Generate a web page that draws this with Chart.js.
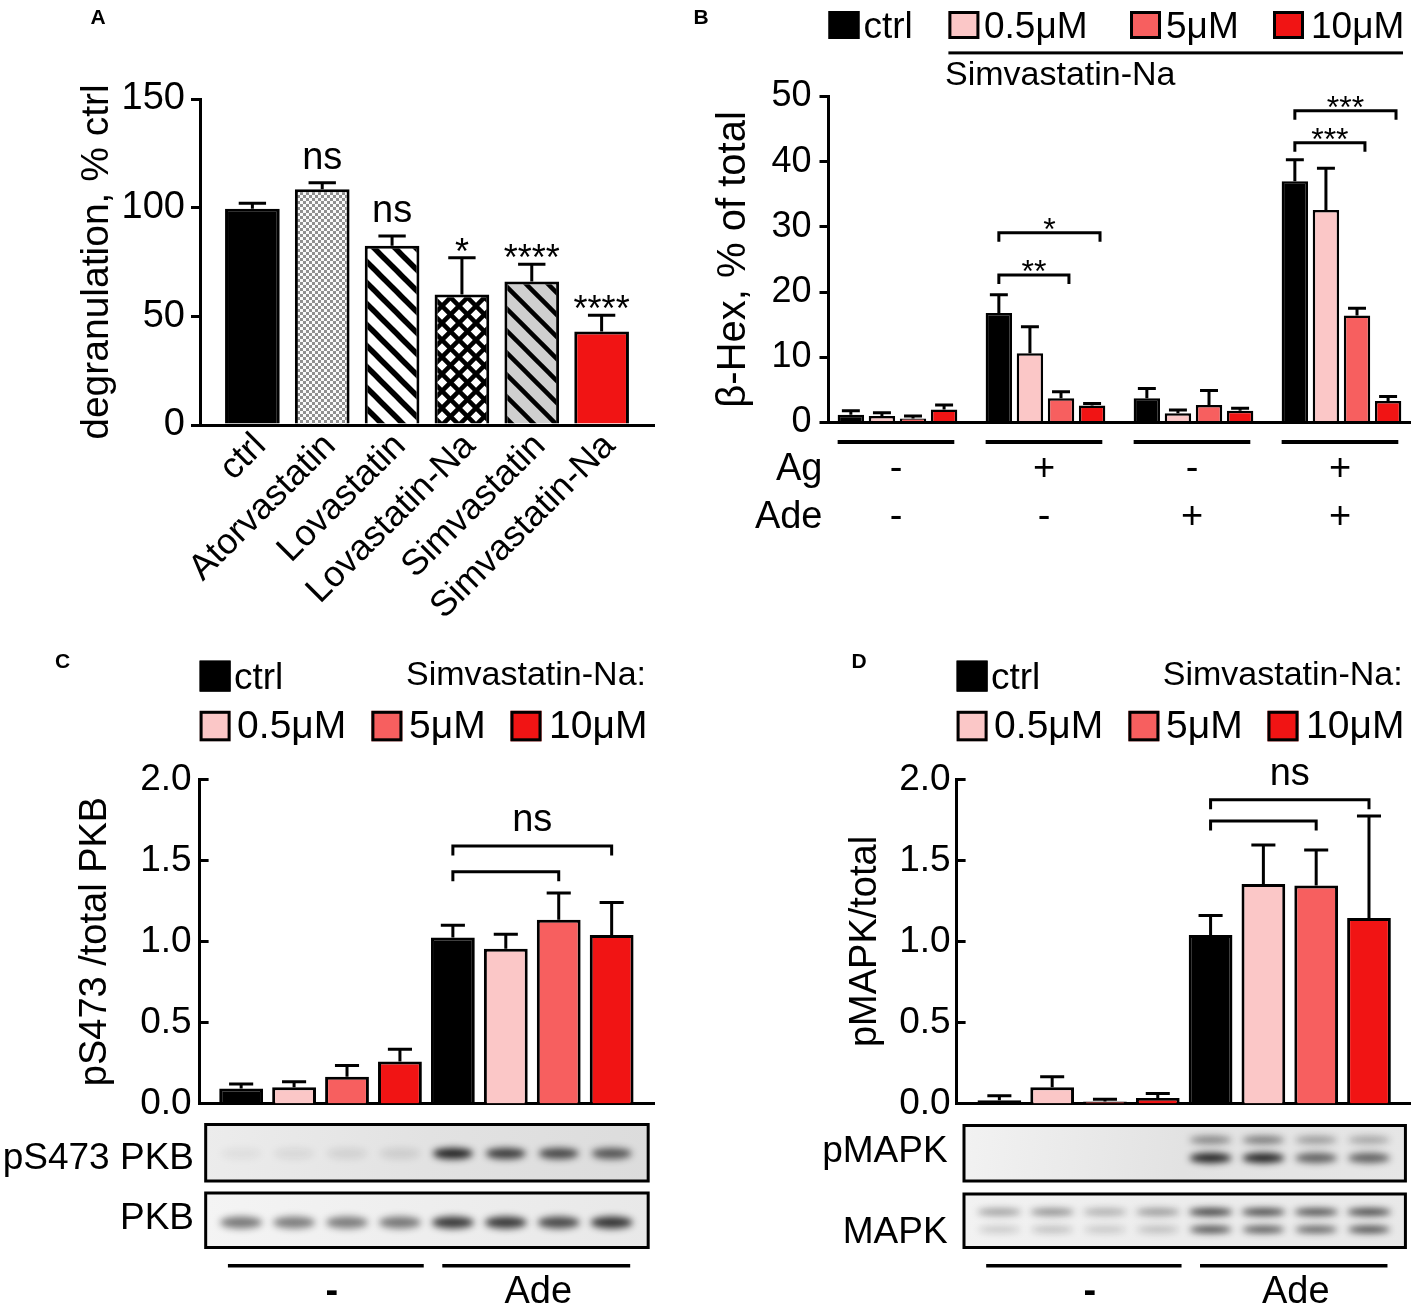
<!DOCTYPE html>
<html>
<head>
<meta charset="utf-8">
<script src="https://cdn.jsdelivr.net/npm/chart.js@4.4.0/dist/chart.umd.min.js"></script>
<style>
body { margin: 0; background: #fff; width: 1412px; height: 1313px; position: relative; overflow: hidden; }
canvas { position: absolute; }
</style>
</head>
<body>
<canvas id="chartA" width="690" height="640" style="left:0;top:0"></canvas>
<canvas id="chartB" width="722" height="560" style="left:690px;top:0"></canvas>
<canvas id="chartC" width="700" height="673" style="left:0;top:640px"></canvas>
<canvas id="chartD" width="712" height="673" style="left:700px;top:640px"></canvas>
<script>
// ---- panel A: degranulation per statin
var statins = ['ctrl', 'Atorvastatin', 'Lovastatin', 'Lovastatin-Na', 'Simvastatin', 'Simvastatin-Na'];
var degranulation = [99.5, 108.5, 82.5, 60, 66, 43];
var degranulationErr = [2.5, 3, 4.5, 17, 8, 7.5];
var degranulationSig = ['', 'ns', 'ns', '*', '****', '****'];

// ---- panel B: beta-hex release, 4 conditions x 4 doses
var doses = ['ctrl', '0.5μM', '5μM', '10μM'];
var agRow = ['-', '+', '-', '+'];
var adeRow = ['-', '-', '+', '+'];
var hexCtrl = [1.2, 16.8, 3.7, 37.0];
var hex05 = [1.0, 10.6, 1.4, 32.6];
var hex5 = [0.6, 3.7, 2.7, 16.4];
var hex10 = [2.0, 2.6, 1.8, 3.3];
var hexCtrlErr = [0.6, 2.8, 1.5, 3.3];
var hex05Err = [0.5, 4.1, 0.5, 6.4];
var hex5Err = [0.4, 1.0, 2.2, 1.1];
var hex10Err = [0.7, 0.3, 0.4, 0.7];
var hexSigGroup = [1, 1, 3, 3];
var hexSigDose = [2, 3, 2, 3];
var hexSigLevel = [22.6, 29.1, 42.9, 47.8];
var hexSigLabel = ['**', '*', '***', '***'];

// ---- panels C, D: 8 lanes (4 doses without / with Ade)
var laneAde = ['-', '-', '-', '-', 'Ade', 'Ade', 'Ade', 'Ade'];
var laneDose = doses.concat(doses);
var pkbRatio = [0.093, 0.10, 0.165, 0.26, 1.025, 0.955, 1.135, 1.04];
var pkbErr = [0.027, 0.035, 0.07, 0.075, 0.075, 0.09, 0.165, 0.2];
var pkbSigTo = [6, 7];
var pkbSigLevel = [1.43, 1.59];
var mapkRatio = [0.02, 0.10, 0.013, 0.034, 1.04, 1.355, 1.345, 1.145];
var mapkErr = [0.028, 0.065, 0.013, 0.027, 0.12, 0.24, 0.22, 0.63];
var mapkSigTo = [6, 7];
var mapkSigLevel = [1.744, 1.875];
// blot band darkness per lane, 0..1
var pS473Band = [0.05, 0.07, 0.09, 0.1, 0.9, 0.78, 0.72, 0.66];
var pkbBand = [0.52, 0.5, 0.5, 0.52, 0.8, 0.8, 0.72, 0.82];
var pMapkTopBand = [0, 0, 0, 0, 0.45, 0.5, 0.35, 0.3];
var pMapkLowBand = [0, 0, 0, 0, 0.9, 0.9, 0.62, 0.62];
var mapkTopBand = [0.38, 0.45, 0.3, 0.4, 0.85, 0.8, 0.75, 0.8];
var mapkLowBand = [0.18, 0.22, 0.18, 0.22, 0.75, 0.7, 0.65, 0.75];

var FONT = '"Liberation Sans", Arial, sans-serif';
var doseColors = ['#000000', '#fbc7c7', '#f75f5f', '#f11414'];
Chart.defaults.font.family = FONT;
Chart.defaults.color = '#000';

function txt(ctx, s, x, y, size, align, bold) {
  ctx.save();
  ctx.font = (bold ? 'bold ' : '') + size + 'px ' + FONT;
  ctx.fillStyle = '#000';
  ctx.textAlign = align || 'center';
  ctx.textBaseline = 'alphabetic';
  ctx.fillText(s, x, y);
  ctx.restore();
}

function makePattern(size, draw) {
  var c = document.createElement('canvas');
  c.width = c.height = size;
  var g = c.getContext('2d');
  draw(g, size);
  return g.createPattern(c, 'repeat');
}
function stripes(g, n, bg, lw) {
  g.fillStyle = bg; g.fillRect(0, 0, n, n);
  g.strokeStyle = '#000'; g.lineWidth = lw;
  [-n, 0, n].forEach(function(c) {
    g.beginPath(); g.moveTo(-2, c - 2); g.lineTo(n + 2, n + c + 2); g.stroke();
  });
}
var checker = makePattern(6, function(g) {
  g.fillStyle = '#fafafa'; g.fillRect(0, 0, 6, 6);
  g.fillStyle = '#8f8f8f'; g.fillRect(0, 0, 3, 3); g.fillRect(3, 3, 3, 3);
});
var lovaStripe = makePattern(21, function(g, n) { stripes(g, n, '#fff', 5.5); });
var simStripe = makePattern(22, function(g, n) { stripes(g, n, '#cfcfcf', 4.5); });
var crossHatch = makePattern(17, function(g, n) {
  g.fillStyle = '#fff'; g.fillRect(0, 0, n, n);
  g.strokeStyle = '#000'; g.lineWidth = 4.5;
  [-n, 0, n].forEach(function(c) {
    g.beginPath(); g.moveTo(-2, c - 2); g.lineTo(n + 2, n + c + 2); g.stroke();
    g.beginPath(); g.moveTo(-2, n - c + 2); g.lineTo(n + 2, -c - 2); g.stroke();
  });
});
var statinFills = ['#000000', checker, lovaStripe, crossHatch, simStripe, '#f11414'];

function errorBars(errs, capRatio) {
  return {
    id: 'errorBars',
    afterDatasetsDraw: function(chart) {
      var ctx = chart.ctx, ys = chart.scales.y;
      ctx.save();
      ctx.strokeStyle = '#000';
      ctx.lineWidth = 3;
      chart.data.datasets.forEach(function(ds, di) {
        chart.getDatasetMeta(di).data.forEach(function(bar, i) {
          var top = ys.getPixelForValue(ds.data[i].y + errs[di][i]);
          var half = bar.width * capRatio / 2;
          ctx.beginPath();
          ctx.moveTo(bar.x, bar.y); ctx.lineTo(bar.x, top);
          ctx.moveTo(bar.x - half, top); ctx.lineTo(bar.x + half, top);
          ctx.stroke();
        });
      });
      ctx.restore();
    }
  };
}

// tick marks pointing into the plot (panels C, D)
var inwardTicks = {
  id: 'inwardTicks',
  afterDraw: function(chart) {
    var ctx = chart.ctx, ys = chart.scales.y, L = chart.chartArea.left;
    ctx.save();
    ctx.strokeStyle = '#000'; ctx.lineWidth = 3;
    ys.ticks.forEach(function(t) {
      var y = ys.getPixelForValue(t.value);
      ctx.beginPath(); ctx.moveTo(L - 1.5, y); ctx.lineTo(L + 9, y); ctx.stroke();
    });
    ctx.restore();
  }
};

function bracket(ctx, x1, x2, y, drop) {
  ctx.save();
  ctx.strokeStyle = '#000'; ctx.lineWidth = 3;
  ctx.beginPath();
  ctx.moveTo(x1, y + drop); ctx.lineTo(x1, y); ctx.lineTo(x2, y); ctx.lineTo(x2, y + drop);
  ctx.stroke();
  ctx.restore();
}

function legendBox(ctx, x, y, w, h, color) {
  ctx.save();
  ctx.fillStyle = color; ctx.fillRect(x, y, w, h);
  ctx.strokeStyle = '#000'; ctx.lineWidth = 3;
  ctx.strokeRect(x + 1.5, y + 1.5, w - 3, h - 3);
  ctx.restore();
}

function yAxis(min, max, step, tickSize, pad, title, titleSize, titlePad, width, fmt, inward) {
  return {
    min: min, max: max,
    grid: { display: !inward, drawTicks: !inward, drawOnChartArea: false, tickLength: 9, color: '#000', lineWidth: 3 },
    border: { display: true, color: '#000', width: 3 },
    ticks: { stepSize: step, padding: pad, font: { size: tickSize }, callback: fmt },
    title: { display: true, text: title, font: { size: titleSize, lineHeight: 1 }, padding: { top: titlePad, bottom: 0 } },
    afterFit: function(s) { s.width = width; }
  };
}
function xAxisPlain(min, max, height) {
  return {
    type: 'linear', min: min, max: max, offset: false,
    grid: { display: false, drawTicks: false },
    border: { display: true, color: '#000', width: 3 },
    ticks: { display: false, stepSize: 1, includeBounds: false },
    afterFit: function(s) { s.height = height; }
  };
}
function points(vals) {
  return vals.map(function(v, i) { return { x: i, y: v }; });
}

// ================= A
new Chart(document.getElementById('chartA'), {
  type: 'bar',
  data: {
    datasets: [{
      data: points(degranulation),
      backgroundColor: statinFills,
      borderColor: '#000', borderWidth: 3,
      categoryPercentage: 0.9, barPercentage: 0.87
    }]
  },
  options: {
    responsive: false, animation: false,
    layout: { padding: { top: 99, right: 36, bottom: 0, left: 0 } },
    plugins: { legend: { display: false }, tooltip: { enabled: false } },
    scales: {
      x: {
        type: 'linear', min: -0.75, max: 5.75, offset: false,
        grid: { display: false, drawTicks: false },
        border: { display: true, color: '#000', width: 3 },
        ticks: {
          stepSize: 1, includeBounds: false, autoSkip: false, minRotation: 45, maxRotation: 45,
          padding: 0, labelOffset: 8, font: { size: 36 },
          callback: function(v) { return statins[v] || ''; }
        },
        afterFit: function(s) { s.height = 215; }
      },
      y: yAxis(0, 150, 50, 38, 6, 'degranulation, % ctrl', 39, 77.5, 200)
    }
  },
  plugins: [errorBars([degranulationErr], 0.5), {
    id: 'labelsA',
    afterDraw: function(chart) {
      var ctx = chart.ctx, ys = chart.scales.y;
      txt(ctx, 'A', 98, 24, 21, 'center', true);
      chart.getDatasetMeta(0).data.forEach(function(bar, i) {
        var s = degranulationSig[i];
        if (!s) return;
        var top = ys.getPixelForValue(degranulation[i] + degranulationErr[i]);
        if (s === 'ns') txt(ctx, s, bar.x, top - 14, 38);
        else txt(ctx, s, bar.x, top + 6, 36);
      });
    }
  }]
});

// ================= B
var hexSets = [hexCtrl, hex05, hex5, hex10];
var hexErrs = [hexCtrlErr, hex05Err, hex5Err, hex10Err];
new Chart(document.getElementById('chartB'), {
  type: 'bar',
  data: {
    datasets: hexSets.map(function(vals, d) {
      return {
        label: doses[d], data: points(vals),
        backgroundColor: doseColors[d], borderColor: '#000', borderWidth: 2.5,
        categoryPercentage: 0.84, barPercentage: 0.85
      };
    })
  },
  options: {
    responsive: false, animation: false,
    layout: { padding: { top: 96.4, right: 2, bottom: 0, left: 0 } },
    plugins: { legend: { display: false }, tooltip: { enabled: false } },
    scales: {
      x: xAxisPlain(-0.466, 3.463, 137.5),
      y: yAxis(0, 50, 10, 36, 8, 'β-Hex, % of total', 40, 24, 138.5)
    }
  },
  plugins: [errorBars(hexErrs, 0.68), {
    id: 'labelsB',
    afterDraw: function(chart) {
      var ctx = chart.ctx, ys = chart.scales.y, a = chart.chartArea, L = a.left;
      txt(ctx, 'B', 11, 24, 21, 'center', true);
      // legend
      var boxX = [0, 119.9, 301.5, 444.5], textX = [35, 155.5, 337.5, 482.5];
      doses.forEach(function(d, i) {
        legendBox(ctx, L + boxX[i], 11, 31, 28, doseColors[i]);
        txt(ctx, d, L + textX[i], 38, 37, 'left');
      });
      ctx.save();
      ctx.fillStyle = '#000';
      ctx.fillRect(L + 119.9, 51.4, 454.6, 3);
      ctx.restore();
      txt(ctx, 'Simvastatin-Na', L + 116.5, 85, 34, 'left');
      // significance brackets
      hexSigLabel.forEach(function(s, k) {
        var g = hexSigGroup[k];
        var b0 = chart.getDatasetMeta(0).data[g];
        var b1 = chart.getDatasetMeta(hexSigDose[k]).data[g];
        var y = ys.getPixelForValue(hexSigLevel[k]);
        var x2 = b1.x + b1.width * 0.3;
        bracket(ctx, b0.x, x2, y, 9);
        txt(ctx, s, (b0.x + x2) / 2, y + 7, 32);
      });
      // condition rows
      txt(ctx, 'Ag', L - 6, a.bottom + 57.5, 38, 'right');
      txt(ctx, 'Ade', L - 6, a.bottom + 105.5, 38, 'right');
      var first = chart.getDatasetMeta(0).data, last = chart.getDatasetMeta(3).data;
      agRow.forEach(function(s, g) {
        var x0 = first[g].x - first[g].width / 2, x1 = last[g].x + last[g].width / 2 - 3;
        ctx.save(); ctx.fillStyle = '#000'; ctx.fillRect(x0, a.bottom + 17.5, x1 - x0, 4); ctx.restore();
        var cx = (x0 + x1) / 2;
        txt(ctx, s, cx, a.bottom + 57.5, 38);
        txt(ctx, adeRow[g], cx, a.bottom + 105.5, 38);
      });
    }
  }]
});

// ================= C, D shared drawing
function drawDoseLegend(chart) {
  var ctx = chart.ctx, a = chart.chartArea, L = a.left;
  legendBox(ctx, L, 20.6, 31, 31, doseColors[0]);
  txt(ctx, doses[0], L + 34.4, 49.4, 37, 'left');
  txt(ctx, 'Simvastatin-Na:', a.right - 8, 45, 34, 'right');
  var boxX = [0, 171.8, 310.9], textX = [37.5, 209.5, 349.5];
  for (var i = 1; i < 4; i++) {
    legendBox(ctx, L + boxX[i - 1], 70.8, 31, 30.5, doseColors[i]);
    txt(ctx, doses[i], L + textX[i - 1], 97.9, 39, 'left');
  }
}
function drawNs(chart, toIdx, levels) {
  var ctx = chart.ctx, ys = chart.scales.y, bars = chart.getDatasetMeta(0).data;
  var x1 = bars[4].x, top = 0, cx = 0;
  toIdx.forEach(function(j, k) {
    var y = ys.getPixelForValue(levels[k]);
    bracket(ctx, x1, bars[j].x, y, 9.5);
    top = y; cx = (x1 + bars[j].x) / 2;
  });
  txt(ctx, 'ns', cx, top - 15, 38);
}
function drawBlots(chart, rows, gap) {
  var ctx = chart.ctx, xs = chart.scales.x, a = chart.chartArea;
  var x0 = xs.getPixelForValue(-0.67), x1 = xs.getPixelForValue(7.69);
  rows.forEach(function(r) {
    var t = a.bottom + r.top, b = a.bottom + r.bottom;
    ctx.save();
    var grad = ctx.createLinearGradient(x0, t, x1, b);
    grad.addColorStop(0, r.bg[0]); grad.addColorStop(0.5, r.bg[1]); grad.addColorStop(1, r.bg[2]);
    ctx.fillStyle = grad;
    ctx.fillRect(x0, t, x1 - x0, b - t);
    ctx.beginPath(); ctx.rect(x0, t, x1 - x0, b - t); ctx.clip();
    ctx.filter = 'blur(3.5px)';
    r.bands.forEach(function(band) {
      band.v.forEach(function(dark, i) {
        if (!dark) return;
        var cx = xs.getPixelForValue(i);
        ctx.fillStyle = 'rgba(10,10,10,' + dark + ')';
        ctx.beginPath();
        ctx.ellipse(cx, t + band.dy, band.w / 2, band.h / 2, 0, 0, Math.PI * 2);
        ctx.fill();
      });
    });
    ctx.restore();
    ctx.save();
    ctx.strokeStyle = '#000'; ctx.lineWidth = 3;
    ctx.strokeRect(x0, t, x1 - x0, b - t);
    ctx.restore();
    txt(ctx, r.name, a.left - gap, t + r.textDy, 37, 'right');
  });
  // treatment row under the blots
  var spans = [[-0.25, 3.45], [3.8, 7.35]], names = [laneAde[0], laneAde[4]];
  spans.forEach(function(sp, k) {
    var p0 = xs.getPixelForValue(sp[0]), p1 = xs.getPixelForValue(sp[1]);
    ctx.save(); ctx.fillStyle = '#000'; ctx.fillRect(p0, a.bottom + 160.5, p1 - p0, 3.5); ctx.restore();
    txt(ctx, names[k], (p0 + p1) / 2 + (k ? 2 : 6), a.bottom + 199.5, 38, 'center', !k);
  });
}
function laneChart(id, vals, errs, padRight, tickPad, title, titlePad, yWidth, xMin, xMax, extra) {
  return new Chart(document.getElementById(id), {
    type: 'bar',
    data: {
      datasets: [{
        data: points(vals),
        backgroundColor: laneDose.map(function(d) { return doseColors[doses.indexOf(d)]; }),
        borderColor: '#000', borderWidth: 3,
        categoryPercentage: 0.92, barPercentage: 0.9
      }]
    },
    options: {
      responsive: false, animation: false,
      layout: { padding: { top: 139.5, right: padRight, bottom: 0, left: 0 } },
      plugins: { legend: { display: false }, tooltip: { enabled: false } },
      scales: {
        x: xAxisPlain(xMin, xMax, 209.5),
        y: yAxis(0, 2, 0.5, 37, tickPad, title, 38, titlePad, yWidth, function(v) { return v.toFixed(1); }, true)
      }
    },
    plugins: [errorBars([errs], 0.55), inwardTicks, { id: 'extra' + id, afterDraw: extra }]
  });
}

// ================= C
laneChart('chartC', pkbRatio, pkbErr, 46, 8, 'pS473 /total PKB', 77, 199.6, -0.785, 7.8, function(chart) {
  txt(chart.ctx, 'C', 62.5, 28, 21, 'center', true);
  drawDoseLegend(chart);
  drawNs(chart, pkbSigTo, pkbSigLevel);
  drawBlots(chart, [
    { name: 'pS473 PKB', top: 21, bottom: 77.5, textDy: 44, bg: ['#ececec', '#e2e2e2', '#dcdcdc'],
      bands: [{ dy: 29, w: 40, h: 11, v: pS473Band }] },
    { name: 'PKB', top: 89.5, bottom: 144, textDy: 36, bg: ['#f4f4f4', '#eeeeee', '#e8e8e8'],
      bands: [{ dy: 29.5, w: 42, h: 12, v: pkbBand }] }
  ], 5.6);
});

// ================= D
laneChart('chartD', mapkRatio, mapkErr, 1.3, 6, 'pMAPK/total', 147, 256.6, -0.81, 7.79, function(chart) {
  txt(chart.ctx, 'D', 159, 28, 21, 'center', true);
  drawDoseLegend(chart);
  drawNs(chart, mapkSigTo, mapkSigLevel);
  drawBlots(chart, [
    { name: 'pMAPK', top: 22, bottom: 77.5, textDy: 36.5, bg: ['#f2f2f2', '#e2e2e2', '#e6e6e6'],
      bands: [{ dy: 14.5, w: 42, h: 8, v: pMapkTopBand }, { dy: 32.5, w: 42, h: 10, v: pMapkLowBand }] },
    { name: 'MAPK', top: 90.5, bottom: 144, textDy: 48.5, bg: ['#f2f2f2', '#ececec', '#e8e8e8'],
      bands: [{ dy: 18, w: 44, h: 7, v: mapkTopBand }, { dy: 35.5, w: 42, h: 7, v: mapkLowBand }] }
  ], 9);
});
</script>
</body>
</html>
